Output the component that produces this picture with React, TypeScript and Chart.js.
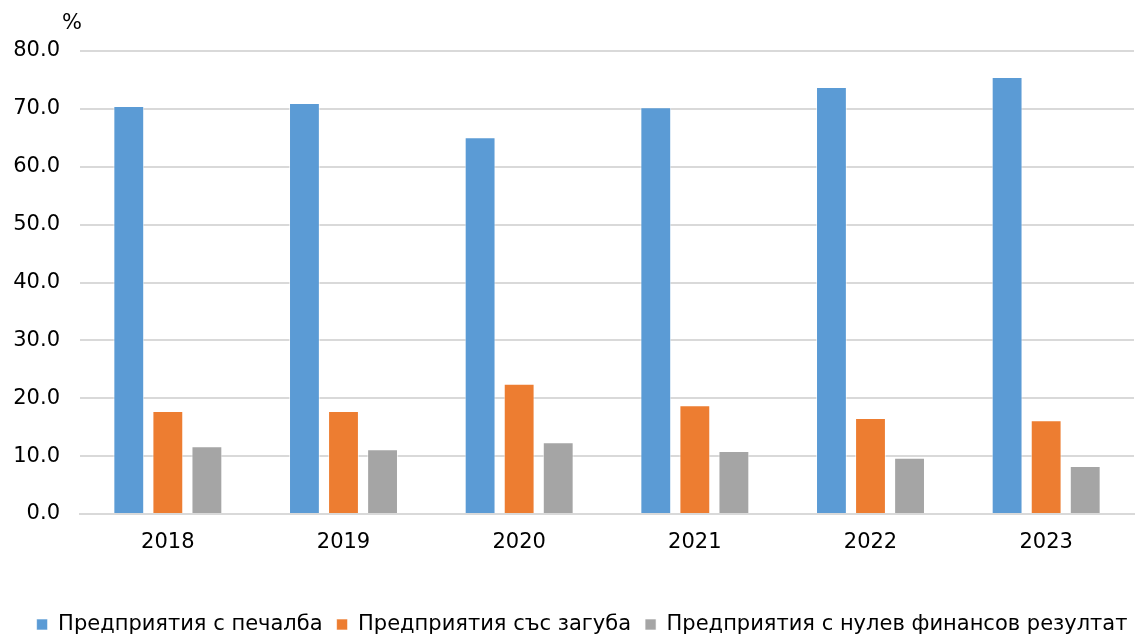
import React, { useEffect, useRef } from "react";
import { Chart, registerables } from "chart.js";

Chart.register(...registerables);

const years = ["2018", "2019", "2020", "2021", "2022", "2023"];
const seriesNames = [
  "Предприятия с печалба",
  "Предприятия със загуба",
  "Предприятия с нулев финансов резултат",
];
const profit = [70.5, 71.0, 65.1, 70.3, 73.8, 75.5];
const loss = [17.8, 17.8, 22.5, 18.8, 16.6, 16.2];
const zero = [11.7, 11.2, 12.4, 10.9, 9.7, 8.3];
const colors = ["#5B9BD5", "#ED7D31", "#A5A5A5"];
const yUnit = "%";

const FONT = '"DejaVu Sans"';

const unitPlugin = {
  id: "unitLabel",
  afterDraw(chart: any) {
    const ctx = chart.ctx;
    const y = chart.scales.y;
    ctx.save();
    ctx.font = `21px ${FONT}`;
    ctx.fillStyle = "#000";
    ctx.textAlign = "center";
    ctx.textBaseline = "middle";
    ctx.fillText(yUnit, y.right - 8, chart.chartArea.top - 27);
    ctx.restore();
  },
};

const legendShift = {
  id: "legendShift",
  afterLayout(chart: any) {
    const lg = chart.legend;
    if (lg) {
      lg.top += 11;
      lg.bottom += 11;
      lg.left += 15;
      lg.right += 15;
    }
  },
};

export default function App() {
  const ref = useRef<HTMLCanvasElement>(null);
  useEffect(() => {
    document.body.style.margin = "0";
    const data = [profit, loss, zero];
    const chart = new Chart(ref.current!, {
      type: "bar",
      data: {
        labels: years,
        datasets: seriesNames.map((n, i) => ({
          label: n,
          data: data[i],
          backgroundColor: colors[i],
          borderColor: "rgba(255,255,255,0.6)",
          borderWidth: 1,
          barPercentage: 0.79,
          categoryPercentage: 0.667,
        })),
      },
      options: {
        animation: false,
        responsive: true,
        maintainAspectRatio: false,
        layout: { padding: { top: 51, right: 11, left: 0, bottom: 0 } },
        plugins: {
          tooltip: { enabled: false },
          legend: {
            position: "bottom",
            labels: {
              boxWidth: 11,
              boxHeight: 11,
              padding: 14,
              color: "#000",
              font: { family: FONT, size: 21 },
            },
          },
        },
        scales: {
          x: {
            grid: { display: false, drawTicks: false },
            border: { display: true, color: "#D9D9D9", width: 2 },
            ticks: { color: "#000", padding: 16, font: { family: FONT, size: 21 } },
            afterFit: (s: any) => {
              s.height = 120 - 45;
            },
          },
          y: {
            min: 0,
            max: 80,
            grid: { color: "#D9D9D9", lineWidth: 2, drawTicks: false },
            border: { display: false },
            ticks: {
              stepSize: 10,
              color: "#000",
              padding: 20,
              font: { family: FONT, size: 21 },
              callback: (v: any) => Number(v).toFixed(1),
            },
            afterFit: (s: any) => {
              s.width = 80;
            },
          },
        },
      },
      plugins: [unitPlugin, legendShift],
    });
    return () => chart.destroy();
  }, []);
  return (
    <div style={{ position: "absolute", left: 0, top: 0, width: 1145, height: 634 }}>
      <canvas ref={ref} />
    </div>
  );
}
